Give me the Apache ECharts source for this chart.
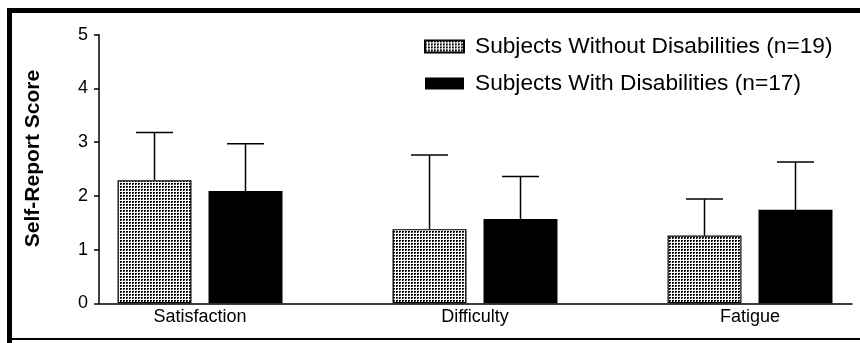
<!DOCTYPE html>
<html>
<head>
<meta charset="utf-8">
<script src="https://cdn.jsdelivr.net/npm/echarts@6/dist/echarts.min.js"></script>
<style>
html,body{margin:0;padding:0;background:#fff;}
#c{width:860px;height:343px;}
</style>
</head>
<body>
<div id="c"></div>
<script>
// ---- data ----
var categories = ['Satisfaction', 'Difficulty', 'Fatigue'];
var categoryPositions = [0, 1, 2];
var seriesNames = ['Subjects Without Disabilities (n=19)', 'Subjects With Disabilities (n=17)'];
var withoutMean = [2.29, 1.38, 1.26];
var withoutErrTop = [3.18, 2.76, 1.94];
var withMean = [2.09, 1.57, 1.74];
var withErrTop = [2.97, 2.36, 2.63];
var yTicks = [0, 1, 2, 3, 4, 5];

var FONT = "'Liberation Sans', Arial, Helvetica, sans-serif";

// dotted fill pattern
function makePattern() {
  var cv = document.createElement('canvas');
  cv.width = 3; cv.height = 3;
  var ctx = cv.getContext('2d');
  ctx.fillStyle = '#fff';
  ctx.fillRect(0, 0, 3, 3);
  ctx.fillStyle = '#000';
  ctx.fillRect(0, 0, 2, 1);
  ctx.fillRect(0, 1, 1, 1);
  ctx.fillStyle = '#888';
  ctx.fillRect(1, 1, 1, 1);
  return cv;
}
var pattern = { image: makePattern(), repeat: 'repeat' };

var BAR_FRAC = 0.269;  // bar width as fraction of category spacing
var GAP_FRAC = 0.23;   // gap between bars as fraction of bar width

function errSeries(means, tops, side) {
  return {
    type: 'custom',
    z: 5,
    silent: true,
    data: categoryPositions.map(function (p, i) { return [p, means[i], tops[i]]; }),
    renderItem: function (params, api) {
      var band = api.size([1, 0])[0];
      var barW = band * BAR_FRAC;
      var off = side * barW * (1 + GAP_FRAC) / 2;
      var p0 = api.coord([api.value(0), api.value(1)]);
      var p1 = api.coord([api.value(0), api.value(2)]);
      var x = p0[0] + off;
      var cap = barW / 2;
      var st = { stroke: '#000', lineWidth: 1.5 };
      return {
        type: 'group',
        children: [
          { type: 'line', shape: { x1: x, y1: p0[1], x2: x, y2: p1[1] }, style: st },
          { type: 'line', shape: { x1: x - cap / 2, y1: p1[1], x2: x + cap / 2, y2: p1[1] }, style: st }
        ]
      };
    }
  };
}

var chart = echarts.init(document.getElementById('c'), null, { renderer: 'canvas' });
var option = {
  backgroundColor: '#fff',
  animation: false,
  textStyle: { fontFamily: FONT },
  grid: { left: 99, right: 8, top: 34.7, bottom: 39.7 },
  legend: {
    orient: 'vertical',
    left: 424, top: 35,
    padding: 0,
    itemWidth: 39, itemHeight: 12,
    itemGap: 14,
    icon: 'rect',
    data: seriesNames,
    textStyle: { fontFamily: FONT, fontSize: 22.7, color: '#000', padding: [0, 0, 0, 6] }
  },
  xAxis: {
    type: 'value', min: -0.3673, max: 2.3709,
    axisLine: { show: true, onZero: false, lineStyle: { color: '#000', width: 1.5 } },
    axisTick: { show: false },
    axisLabel: {
      fontFamily: FONT, fontSize: 18, color: '#000', margin: 5,
      customValues: categoryPositions,
      formatter: function (v) { return categories[Math.round(v)]; }
    },
    splitLine: { show: false }
  },
  yAxis: {
    type: 'value', min: yTicks[0], max: yTicks[yTicks.length - 1], interval: 1,
    axisLine: { show: true, onZero: false, lineStyle: { color: '#000', width: 1.5 } },
    axisTick: { show: true, length: 5, lineStyle: { color: '#000', width: 1.5 } },
    axisLabel: { fontFamily: FONT, fontSize: 18, color: '#000', margin: 11 },
    splitLine: { show: false }
  },
  graphic: [
    { type: 'rect', shape: { x: 7, y: 8, width: 853, height: 5 }, style: { fill: '#000' }, z: 100 },
    { type: 'rect', shape: { x: 7, y: 8, width: 5, height: 335 }, style: { fill: '#000' }, z: 100 },
    { type: 'rect', shape: { x: 7, y: 338, width: 853, height: 2 }, style: { fill: '#000' }, z: 100 },
    {
      type: 'text', x: 33.5, y: 158.5, rotation: Math.PI / 2,
      style: {
        text: 'Self-Report Score', fill: '#000',
        font: 'bold 21px ' + FONT,
        align: 'center', verticalAlign: 'middle'
      }, z: 100
    }
  ],
  series: [
    {
      name: seriesNames[0], type: 'bar',
      data: categoryPositions.map(function (p, i) { return [p, withoutMean[i]]; }),
      barWidth: (BAR_FRAC * 100) + '%', barGap: (GAP_FRAC * 100) + '%',
      itemStyle: { color: pattern, borderColor: '#000', borderWidth: 1.2 }
    },
    {
      name: seriesNames[1], type: 'bar',
      data: categoryPositions.map(function (p, i) { return [p, withMean[i]]; }),
      barWidth: (BAR_FRAC * 100) + '%', barGap: (GAP_FRAC * 100) + '%',
      itemStyle: { color: '#000' }
    },
    errSeries(withoutMean, withoutErrTop, -1),
    errSeries(withMean, withErrTop, 1)
  ]
};
chart.setOption(option);
</script>
</body>
</html>
